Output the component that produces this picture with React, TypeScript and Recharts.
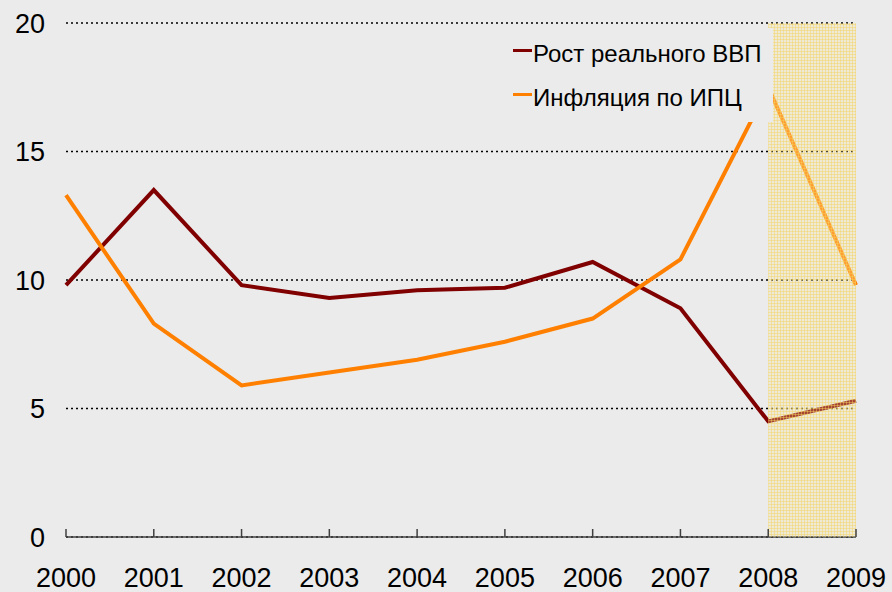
import React from "react";
import {
  LineChart,
  Line,
  XAxis,
  YAxis,
  CartesianGrid,
  ReferenceArea,
  Legend,
} from "recharts";

const years = ["2000", "2001", "2002", "2003", "2004", "2005", "2006", "2007", "2008", "2009"];
const gdpGrowth = [9.8, 13.5, 9.8, 9.3, 9.6, 9.7, 10.7, 8.9, 4.5, 5.3];
const cpiInflation = [13.3, 8.3, 5.9, 6.4, 6.9, 7.6, 8.5, 10.8, 17.5, 9.8];
const yTicks = [0, 5, 10, 15, 20];

const seriesNames = { gdp: "Рост реального ВВП", cpi: "Инфляция по ИПЦ" };
const colors = { gdp: "#800000", cpi: "#ff8000" };

const data = years.map((year, i) => ({
  year,
  gdp: gdpGrowth[i],
  cpi: cpiInflation[i],
}));

const FONT = "'Liberation Sans', Arial, sans-serif";

const YearTick = (props: any) => {
  const { x, y, payload } = props;
  return (
    <g>
      <line x1={x} x2={x} y1={y - 8} y2={y} stroke="#404040" strokeWidth={1.5} />
      <text x={x} y={y + 50} textAnchor="middle" fontSize={27} fill="#000" fontFamily={FONT}>
        {payload.value}
      </text>
    </g>
  );
};

const LegendBox = () => (
  <div style={{ fontFamily: FONT, fontSize: 24, color: "#000" }}>
    {(["gdp", "cpi"] as const).map((key, i) => (
      <div
        key={key}
        style={{
          position: "absolute",
          left: 8,
          top: i === 0 ? 11 : 55,
          display: "flex",
          alignItems: "center",
          whiteSpace: "nowrap",
          lineHeight: "30px",
        }}
      >
        <span
          style={{
            display: "inline-block",
            width: 19,
            height: 3,
            background: colors[key],
            marginRight: 1,
            marginTop: -8,
          }}
        />
        <span>{seriesNames[key]}</span>
      </div>
    ))}
  </div>
);

export default function App() {
  return (
    <div
      style={{
        position: "absolute",
        left: 0,
        top: 0,
        width: 892,
        height: 592,
        background: "#ebebeb",
        overflow: "hidden",
      }}
    >
      <LineChart
        width={892}
        height={592}
        data={data}
        margin={{ top: 23, right: 36, left: 0, bottom: 0 }}
      >
        <defs>
          <pattern id="hatch" width="3" height="3" patternUnits="userSpaceOnUse">
            <rect width="3" height="3" fill="#fbeaa6" fillOpacity={0.3} />
            <line x1="0" y1="0.5" x2="3" y2="0.5" stroke="#f4d35e" strokeWidth={1} strokeOpacity={0.45} />
            <line x1="0.5" y1="0" x2="0.5" y2="3" stroke="#f4d35e" strokeWidth={1} strokeOpacity={0.45} />
          </pattern>
        </defs>
        <CartesianGrid
          vertical={false}
          stroke="#000"
          strokeWidth={1.6}
          strokeDasharray="2 3"
        />
        <XAxis
          dataKey="year"
          interval={0}
          height={55}
          tickSize={0}
          tickMargin={0}
          tickLine={false}
          axisLine={{ stroke: "#404040", strokeWidth: 1.5 }}
          tick={<YearTick />}
        />
        <YAxis
          width={66}
          domain={[0, 20]}
          ticks={yTicks}
          axisLine={false}
          tickLine={false}
          tickSize={0}
          tickMargin={21}
          tick={{ fontSize: 27, fill: "#000", fontFamily: FONT }}
        />
        <Line
          type="linear"
          dataKey="gdp"
          name={seriesNames.gdp}
          stroke={colors.gdp}
          strokeWidth={4}
          dot={false}
          activeDot={false}
          isAnimationActive={false}
        />
        <Line
          type="linear"
          dataKey="cpi"
          name={seriesNames.cpi}
          stroke={colors.cpi}
          strokeWidth={4}
          dot={false}
          activeDot={false}
          isAnimationActive={false}
        />
        <ReferenceArea
          x1="2008"
          x2="2009"
          y1={0}
          y2={20}
          fill="url(#hatch)"
          fillOpacity={1}
          stroke="none"
          ifOverflow="visible"
          {...({ zIndex: 1000 } as any)}
        />
        <Legend
          layout="vertical"
          align="center"
          verticalAlign="middle"
          content={<LegendBox />}
          wrapperStyle={{
            position: "absolute",
            left: 505,
            top: 28,
            width: 268,
            height: 94,
            background: "#ebebeb",
          }}
        />
      </LineChart>
    </div>
  );
}
